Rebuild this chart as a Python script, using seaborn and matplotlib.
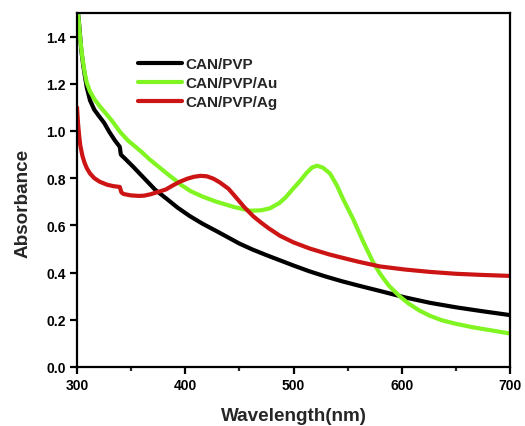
import matplotlib
matplotlib.use("Agg")
import matplotlib.pyplot as plt
from matplotlib.ticker import MultipleLocator, FormatStrFormatter
import seaborn as sns
import pandas as pd

# UV-Vis absorbance spectra
pvp_wl = [301, 302, 304, 306, 309, 312, 316, 320, 325, 330, 335, 339.5, 340.5, 345,
          352, 362, 372, 383, 393, 404, 416, 430, 450, 462, 475, 487.5, 500, 515,
          530, 545, 560, 580, 603, 626, 650, 675, 700]
pvp_abs = [1.50, 1.45, 1.34, 1.27, 1.185, 1.13, 1.09, 1.065, 1.035, 0.995, 0.96,
           0.933, 0.90, 0.88, 0.848, 0.80, 0.752, 0.712, 0.675, 0.64, 0.607, 0.573,
           0.523, 0.498, 0.474, 0.452, 0.43, 0.405, 0.383, 0.363, 0.345, 0.322,
           0.295, 0.272, 0.253, 0.236, 0.22]

au_wl = [301, 303, 305, 307, 309, 312, 316, 321, 326, 332, 340, 347, 353, 360, 367,
         375, 383, 390, 396, 405, 416, 429, 445, 460, 470, 478, 487, 493, 499, 506,
         512, 517, 521.7, 527, 533.7, 540, 546, 555, 564, 573.4, 580, 588, 598, 606,
         616, 626, 637, 650, 666, 683, 700]
au_abs = [1.50, 1.39, 1.31, 1.25, 1.205, 1.168, 1.135, 1.105, 1.078, 1.045, 0.995,
          0.96, 0.937, 0.91, 0.88, 0.85, 0.82, 0.795, 0.772, 0.745, 0.722, 0.70,
          0.678, 0.662, 0.664, 0.672, 0.695, 0.72, 0.752, 0.788, 0.822, 0.845,
          0.853, 0.845, 0.82, 0.77, 0.71, 0.628, 0.535, 0.445, 0.395, 0.345, 0.30,
          0.27, 0.24, 0.217, 0.198, 0.183, 0.168, 0.155, 0.142]

ag_wl = [300, 301, 302, 303, 305, 307, 309, 312, 316, 321, 328, 334, 339.5, 341, 343,
         350, 357, 362, 368, 375, 382, 388, 395, 402, 408, 414, 420, 426, 432, 440,
         447, 455, 463, 470, 477, 487.5, 500, 515, 533, 545, 560, 580, 603, 626, 650,
         675, 700]
ag_abs = [1.10, 1.03, 0.98, 0.94, 0.895, 0.865, 0.843, 0.82, 0.80, 0.785, 0.772,
          0.766, 0.763, 0.74, 0.733, 0.727, 0.725, 0.726, 0.732, 0.742, 0.752, 0.768,
          0.785, 0.798, 0.806, 0.81, 0.808, 0.798, 0.782, 0.755, 0.718, 0.675, 0.638,
          0.612, 0.588, 0.556, 0.528, 0.502, 0.477, 0.463, 0.446, 0.426, 0.413,
          0.403, 0.395, 0.39, 0.386]

series_names = ["CAN/PVP", "CAN/PVP/Au", "CAN/PVP/Ag"]
series_colors = ["#000000", "#80F522", "#CC1414"]

df = pd.concat([
    pd.DataFrame({"Wavelength": pvp_wl, "Absorbance": pvp_abs, "Sample": series_names[0]}),
    pd.DataFrame({"Wavelength": au_wl, "Absorbance": au_abs, "Sample": series_names[1]}),
    pd.DataFrame({"Wavelength": ag_wl, "Absorbance": ag_abs, "Sample": series_names[2]}),
], ignore_index=True)

sns.set_style("ticks")
plt.rcParams["font.family"] = ["Liberation Sans", "DejaVu Sans"]
plt.rcParams["font.weight"] = "bold"

fig = plt.figure(figsize=(5.25, 4.27), dpi=100)
ax = fig.add_axes([77 / 525, 59 / 427, 433 / 525, 354 / 427])

sns.lineplot(data=df, x="Wavelength", y="Absorbance", hue="Sample",
             palette=dict(zip(series_names, series_colors)), hue_order=series_names,
             estimator=None, sort=False, linewidth=3.0, ax=ax)
for line in ax.lines:
    line.set_solid_joinstyle("round")
    line.set_solid_capstyle("round")

ax.set_xlim(300, 700)
ax.set_ylim(0, 1.5)
ax.xaxis.set_major_locator(MultipleLocator(100))
ax.xaxis.set_minor_locator(MultipleLocator(50))
ax.yaxis.set_major_locator(MultipleLocator(0.2))
ax.yaxis.set_major_formatter(FormatStrFormatter("%.1f"))

for side in ["left", "right", "top", "bottom"]:
    ax.spines[side].set_visible(True)
    ax.spines[side].set_linewidth(1.6)
    ax.spines[side].set_color("black")

ax.tick_params(axis="both", which="major", direction="out", length=5, width=1.6,
               labelsize=10, pad=3, colors="black")
ax.tick_params(axis="x", which="minor", direction="out", length=3, width=1.6)
for lbl in ax.get_xticklabels() + ax.get_yticklabels():
    lbl.set_fontweight("bold")

ax.set_xlabel("Wavelength(nm)", fontsize=13.6, fontweight="bold", labelpad=11)
ax.set_ylabel("Absorbance", fontsize=13.6, fontweight="bold")
ax.yaxis.set_label_coords(-0.106, 0.465)

ax.legend(frameon=False, loc="upper left", bbox_to_anchor=(0.14, 0.876),
          borderaxespad=0, borderpad=0, handlelength=2.9, handletextpad=0.25,
          labelspacing=0.345, prop={"size": 11, "weight": "bold"})

fig.savefig("out.png", dpi=100)
